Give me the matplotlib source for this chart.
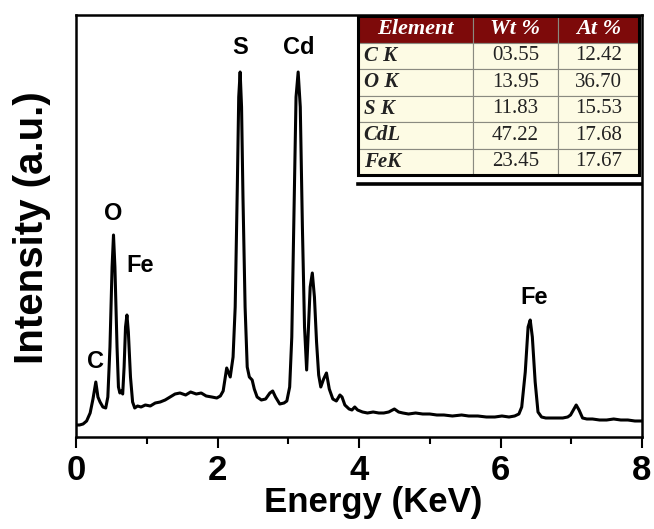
import matplotlib
matplotlib.use('Agg')
import matplotlib.pyplot as plt
from matplotlib.patches import Rectangle
from matplotlib.lines import Line2D

# EDS spectrum (energy in keV, intensity in a.u.)
energy = [0.00, 0.05, 0.10, 0.15, 0.20, 0.24, 0.28, 0.31, 0.34, 0.38, 0.42,
          0.45, 0.48, 0.51, 0.53, 0.55, 0.58, 0.60, 0.62, 0.64, 0.66, 0.68,
          0.70, 0.72, 0.74, 0.77, 0.80, 0.83, 0.87, 0.92, 0.98, 1.05, 1.12,
          1.19, 1.26, 1.33, 1.40, 1.47, 1.55, 1.62, 1.70, 1.77, 1.84, 1.92,
          1.99, 2.04, 2.08, 2.13, 2.18, 2.22, 2.25, 2.28, 2.30, 2.32, 2.34,
          2.36, 2.39, 2.42, 2.45, 2.49, 2.52, 2.56, 2.62, 2.68, 2.74, 2.78,
          2.82, 2.88, 2.94, 2.98, 3.02, 3.05, 3.08, 3.11, 3.14, 3.17, 3.20,
          3.23, 3.26, 3.28, 3.31, 3.34, 3.37, 3.40, 3.43, 3.46, 3.50, 3.54,
          3.58, 3.63, 3.68, 3.73, 3.76, 3.80, 3.86, 3.90, 3.94, 3.98, 4.05,
          4.12, 4.20, 4.28, 4.35, 4.42, 4.50, 4.56, 4.62, 4.70, 4.80, 4.90,
          5.00, 5.10, 5.20, 5.32, 5.45, 5.55, 5.68, 5.80, 5.92, 6.02, 6.12,
          6.20, 6.26, 6.30, 6.35, 6.39, 6.42, 6.45, 6.49, 6.53, 6.58, 6.64,
          6.72, 6.80, 6.88, 6.95, 6.99, 7.03, 7.07, 7.11, 7.16, 7.22, 7.30,
          7.40, 7.50, 7.60, 7.70, 7.80, 7.90, 8.00]
intensity = [12, 12, 13, 16, 24, 38, 55, 40, 35, 30, 29,
             40, 90, 170, 202, 170, 90, 50, 44, 46, 43, 70,
             110, 122, 105, 60, 35, 29, 31, 30, 32, 31, 34,
             35, 37, 40, 43, 44, 42, 45, 43, 44, 41, 40,
             39, 41, 46, 69, 60, 80, 130, 250, 340, 365, 330,
             240, 130, 70, 60, 57, 48, 40, 37, 38, 44, 46,
             40, 33, 34, 36, 50, 100, 220, 340, 365, 330, 210,
             110, 67, 100, 150, 164, 140, 95, 62, 50, 58, 64,
             48, 38, 36, 42, 40, 32, 28, 27, 30, 27, 25,
             24, 25, 24, 24, 25, 28, 25, 24, 23, 24, 23,
             23, 22, 22, 21, 22, 21, 21, 20, 20, 21, 20,
             21, 23, 30, 65, 110, 117, 100, 55, 25, 20, 19,
             19, 19, 19, 20, 22, 27, 32, 27, 19, 18, 18,
             17, 17, 18, 17, 17, 16, 16]

# peak labels
peak_names = ['C', 'O', 'Fe', 'S', 'Cd', 'Fe']
peak_x = [0.27, 0.53, 0.90, 2.32, 3.15, 6.47]
peak_y = [75, 224, 172, 390, 390, 139]

# composition table
col_labels = ['Element', 'Wt %', 'At %']
elements = ['C K', 'O K', 'S K', 'CdL', 'FeK']
wt_pct = ['03.55', '13.95', '11.83', '47.22', '23.45']
at_pct = ['12.42', '36.70', '15.53', '17.68', '17.67']

plt.rcParams['font.family'] = ['Liberation Sans', 'DejaVu Sans']

fig = plt.figure(figsize=(6.54, 5.29), dpi=100)
ax = fig.add_axes([76 / 654, 92 / 529, 566 / 654, 422 / 529])

ax.plot(energy, intensity, color='black', lw=2.2)

for name, x, y in zip(peak_names, peak_x, peak_y):
    ax.text(x, y, name, ha='center', va='center', fontsize=17, fontweight='bold')

ax.set_xlim(0, 8)
ax.set_ylim(0, 422)
ax.set_xticks([0, 2, 4, 6, 8])
ax.set_xticks([1, 3, 5, 7], minor=True)
ax.set_yticks([])
ax.tick_params(axis='x', which='major', direction='out', length=8, width=1.5,
               labelsize=25, pad=4)
ax.tick_params(axis='x', which='minor', direction='out', length=5, width=1.5)
for lab in ax.get_xticklabels():
    lab.set_fontweight('bold')
for sp in ax.spines.values():
    sp.set_linewidth(1.8)

ax.set_xlabel('Energy (KeV)', fontsize=25, fontweight='bold')
ax.xaxis.set_label_coords(0.525, -0.115)
ax.set_ylabel('Intensity (a.u.)', fontsize=29, fontweight='bold')
ax.yaxis.set_label_coords(-0.045, 0.495)

# table in the upper right corner
cells = [[e, w, a] for e, w, a in zip(elements, wt_pct, at_pct)]
x0 = (358 - 76) / 566
x1 = (639 - 76) / 566
y1 = (437 - 16) / 422
y0 = (437 - 175) / 422
tbl = ax.table(cellText=cells, colLabels=col_labels,
               colWidths=[115, 85, 81], bbox=[x0, y0, x1 - x0, y1 - y0],
               zorder=5)
tbl.auto_set_font_size(False)
for (r, c), cell in tbl.get_celld().items():
    cell.set_edgecolor('#8a8a80')
    cell.set_linewidth(0.8)
    txt = cell.get_text()
    txt.set_fontfamily('Liberation Serif')
    txt.set_fontsize(15)
    if r == 0:
        cell.set_facecolor('#7d0a0a')
        txt.set_color('white')
        txt.set_fontweight('bold')
        txt.set_fontstyle('italic')
        txt.set_fontsize(16)
        txt.set_ha('center')
    else:
        cell.set_facecolor('#fdfbe4')
        txt.set_color('#222222')
        if c == 0:
            txt.set_fontweight('bold')
            txt.set_fontstyle('italic')
            cell.set_text_props(ha='left')
            cell.PAD = 0.05
        else:
            txt.set_ha('center')

ax.add_patch(Rectangle((x0, y0), x1 - x0, y1 - y0, transform=ax.transAxes,
                       fill=False, edgecolor='black', lw=2.2, zorder=6))
ax.add_line(Line2D([x0, 1.0], [(437 - 183.5) / 422] * 2, transform=ax.transAxes,
                   color='black', lw=2.6, zorder=6))

fig.savefig('out.png', dpi=100)
